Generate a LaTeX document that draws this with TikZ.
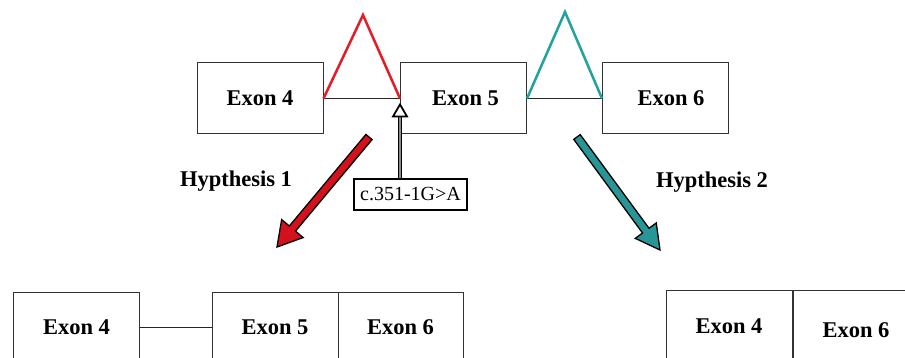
\documentclass[tikz,border=0pt]{standalone}
\usepackage{fontspec}
\setmainfont{Liberation Serif}
\usetikzlibrary{calc}
\definecolor{spred}{RGB}{228,28,38}
\definecolor{spteal}{RGB}{32,162,158}
\definecolor{arrred}{RGB}{212,18,28}
\definecolor{arrteal}{RGB}{40,150,150}
\newcommand\myblockarrow[5]{% tail, tip, colour, head half width, head length
  \coordinate (hb) at ($(#2)!#5!(#1)$);
  \filldraw[fill=#3,draw=black,line width=1.3pt,line join=miter]
    ($(#1)!4pt!90:(#2)$) -- ($(hb)!4pt!90:(#2)$) -- ($(hb)!#4!90:(#2)$) -- (#2)
    -- ($(hb)!#4!-90:(#2)$) -- ($(hb)!4pt!-90:(#2)$) -- ($(#1)!4pt!-90:(#2)$) -- cycle;
}
\begin{document}
\begin{tikzpicture}[x=1pt,y=-1pt,
  exon/.style={draw=black!80,line width=1pt,minimum width=126pt,minimum height=71pt,inner sep=0pt,
    font=\fontsize{22.5}{26}\selectfont\bfseries},
  hyp/.style={font=\fontsize{22.5}{26}\selectfont\bfseries},
  intron/.style={draw=black!85,line width=1pt},
  splice/.style={line width=2.5pt,line join=miter}]
\clip (0,0) rectangle (905,358);
\fill[white] (0,0) rectangle (905,358);
% top row
\node[exon] (t4) at (260,98.5) {Exon 4};
\node[exon] (t5) at (463.5,98.5) {\hspace*{4pt}Exon 5};
\node[exon] (t6) at (665.5,98.5) {\hspace*{11pt}Exon 6};
\draw[intron] (t4.east) -- (t5.west);
\draw[intron] (t5.east) -- (t6.west);
\coordinate (apr) at (363,15);
\coordinate (apt) at (565,12);
\draw[splice,spred] (t4.east) -- (apr) -- (t5.west);
\draw[splice,spteal] (t5.east) -- (apt) -- (t6.west);
% mutation
\node[draw=black,line width=1.2pt,inner sep=0pt,minimum width=113pt,minimum height=31pt,
  font=\fontsize{20}{22}\selectfont] (mut) at (410.5,194.5) {c.351-1G>A};
\coordinate (mtip) at ([yshift=-6pt]t5.west);
\coordinate (mbase) at ([yshift=-18pt]t5.west);
\draw[line width=0.9pt,double=black!45,double distance=2pt] (mut.north -| t5.west) -- (mbase);
\filldraw[fill=white,draw=black,line width=1.8pt,line join=miter]
  (mtip) -- ([xshift=7pt]mbase) -- ([xshift=-7pt]mbase) -- cycle;
% hypotheses
\node[hyp] (h1) at (236,181) {Hypthesis 1};
\node[hyp] (h2) at (712,182) {Hypthesis 2};
\coordinate (rt) at (369,137);
\coordinate (rp) at (277,247);
\coordinate (tt) at (577,137);
\coordinate (tp) at (660,250);
\myblockarrow{rt}{rp}{arrred}{14pt}{24pt}
\myblockarrow{tt}{tp}{arrteal}{13pt}{24pt}
% bottom left
\node[exon] (b4) at (76.5,327.5) {Exon 4};
\node[exon] (b5) at (275,327.5) {Exon 5};
\node[exon,minimum width=125pt] (b6) at (400.5,327.5) {Exon 6};
\draw[intron] (b4.east) -- (b5.west);
% bottom right
\node[exon] (c4) at (729,326) {Exon 4};
\node[exon,anchor=north west] (c6) at (c4.north east) {};
\node[font=\fontsize{22.5}{26}\selectfont\bfseries] (c6t) at ([yshift=-4pt]c6.center) {Exon 6};
\end{tikzpicture}
\end{document}
